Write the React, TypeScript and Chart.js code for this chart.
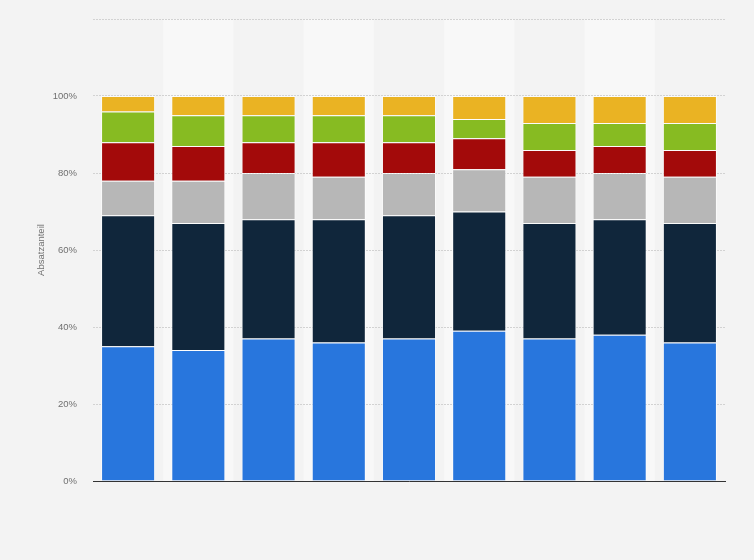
import { useEffect, useRef } from "react"
import { Chart, registerables } from "chart.js"

Chart.register(...registerables)

// Kategorien (keine Beschriftung im Original sichtbar)
const categories = ["1", "2", "3", "4", "5", "6", "7", "8", "9"]

// Anteile je Segment in Prozent, von unten nach oben
const seriesBlue = [35, 34, 37, 36, 37, 39, 37, 38, 36]
const seriesNavy = [34, 33, 31, 32, 32, 31, 30, 30, 31]
const seriesGray = [9, 11, 12, 11, 11, 11, 12, 12, 12]
const seriesRed = [10, 9, 8, 9, 8, 8, 7, 7, 7]
const seriesGreen = [8, 8, 7, 7, 7, 5, 7, 6, 7]
const seriesYellow = [4, 5, 5, 5, 5, 6, 7, 7, 7]

const yTicks = [0, 20, 40, 60, 80, 100, 120]

const seriesColors = ["#2876dd", "#10263b", "#b7b7b7", "#a30a0a", "#87bb22", "#eab323"]

// Abwechselnd hellere Spalten hinter den Balken
const columnBands = {
  id: "columnBands",
  beforeDraw(chart: Chart) {
    const { ctx, chartArea, scales } = chart
    const x = scales.x
    const step = (chartArea.right - chartArea.left) / categories.length
    ctx.save()
    ctx.fillStyle = "#f8f8f8"
    categories.forEach((_, i) => {
      if (i % 2 === 1) {
        const cx = x.getPixelForValue(i)
        ctx.fillRect(cx - step / 2, chartArea.top, step, chartArea.bottom - chartArea.top)
      }
    })
    ctx.restore()
  },
}

export default function App() {
  const canvasRef = useRef<HTMLCanvasElement>(null)
  const chartRef = useRef<Chart | null>(null)

  useEffect(() => {
    if (!canvasRef.current) return
    if (chartRef.current) chartRef.current.destroy()
    const ctx = canvasRef.current.getContext("2d")
    if (!ctx) return

    const values = [seriesBlue, seriesNavy, seriesGray, seriesRed, seriesGreen, seriesYellow]

    chartRef.current = new Chart(ctx, {
      type: "bar",
      data: {
        labels: categories,
        datasets: values.map((data, i) => ({
          data,
          backgroundColor: seriesColors[i],
          borderColor: "rgba(255,255,255,0.65)",
          borderWidth: 1,
          barPercentage: 0.77,
          categoryPercentage: 1,
        })),
      },
      options: {
        animation: false,
        responsive: true,
        maintainAspectRatio: false,
        layout: { padding: { top: 19, right: 29, bottom: 79, left: 0 } },
        plugins: {
          legend: { display: false },
          tooltip: { enabled: false },
        },
        scales: {
          x: {
            stacked: true,
            ticks: { display: false },
            grid: { display: false, drawTicks: false },
            border: { display: true, color: "#333333", width: 1 },
            afterFit: (scale) => {
              scale.height = 0
            },
          },
          y: {
            stacked: true,
            min: 0,
            max: 120,
            afterBuildTicks: (scale) => {
              scale.ticks = yTicks.map((value) => ({ value }))
            },
            afterFit: (scale) => {
              scale.width = 93
              scale.paddingTop = 0
              scale.paddingBottom = 0
            },
            ticks: {
              padding: 16,
              color: "#707070",
              font: { family: "Arial, 'Liberation Sans', sans-serif", size: 9.5 },
              callback: (v) => (Number(v) >= 120 ? "" : v + "%"),
            },
            grid: {
              color: "#d2d2d2",
              drawTicks: false,
            },
            border: { display: false, dash: [2, 1] },
            title: {
              display: true,
              text: "Absatzanteil",
              color: "#707070",
              font: { family: "Arial, 'Liberation Sans', sans-serif", size: 9.5 },
              padding: { top: 36, bottom: 0 },
            },
          },
        },
      },
      plugins: [columnBands],
    })

    return () => {
      if (chartRef.current) {
        chartRef.current.destroy()
        chartRef.current = null
      }
    }
  }, [])

  return (
    <div
      style={{
        position: "absolute",
        left: 0,
        top: 0,
        width: 754,
        height: 560,
        background: "#f3f3f3",
      }}
    >
      <canvas ref={canvasRef} />
    </div>
  )
}
